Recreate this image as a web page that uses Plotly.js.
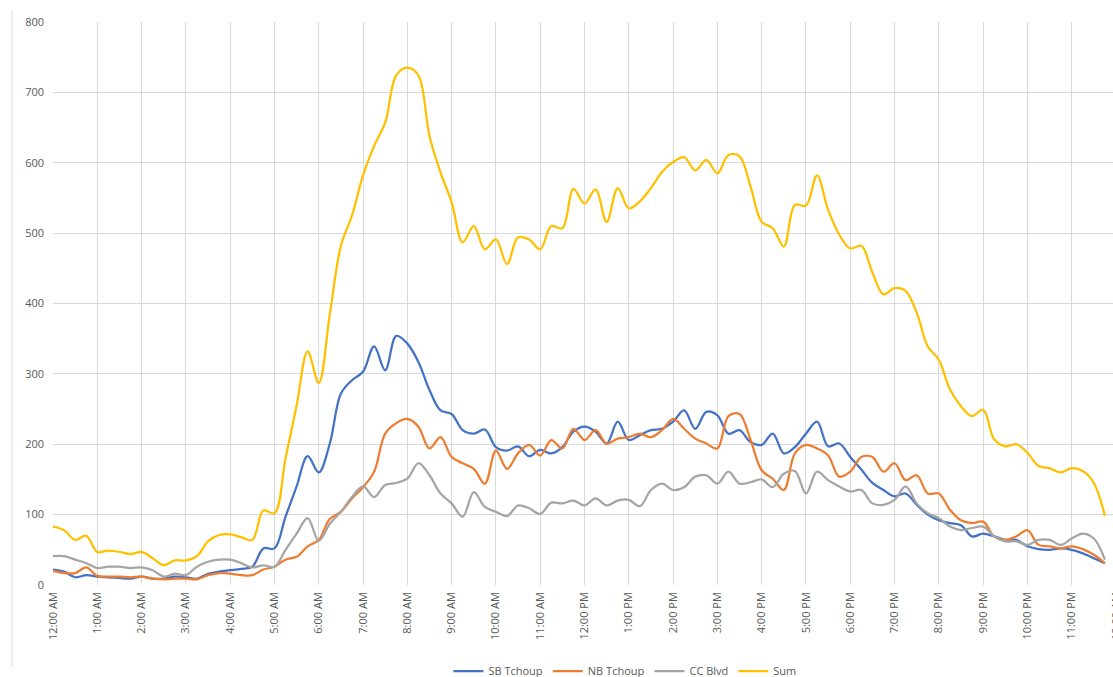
<!DOCTYPE html>
<html>
<head>
<meta charset="utf-8">
<script src="https://cdn.plot.ly/plotly-3.0.1.min.js"></script>
<style>
html, body { margin: 0; padding: 0; overflow: hidden; background: #fff; }
#chart { width: 1130px; height: 677px; }
</style>
</head>
<body>
<div id="chart"></div>
<script>
// Hour tick labels (one per hour, 12:00 AM to 12:00 AM)
const hourLabels = ['12:00 AM','1:00 AM','2:00 AM','3:00 AM','4:00 AM','5:00 AM','6:00 AM','7:00 AM','8:00 AM','9:00 AM','10:00 AM','11:00 AM',
  '12:00 PM','1:00 PM','2:00 PM','3:00 PM','4:00 PM','5:00 PM','6:00 PM','7:00 PM','8:00 PM','9:00 PM','10:00 PM','11:00 PM','12:00 AM'];

const seriesNames = ['SB Tchoup', 'NB Tchoup', 'CC Blvd', 'Sum'];

// 15-minute counts, 12:00 AM .. 11:45 PM
const sbTchoup = [
  22, 19, 11, 14,  12, 11, 10, 9,  12, 9, 9, 12,  11, 9, 16, 19,
  21, 23, 26, 52,  52, 97, 140, 183,  160, 201, 272, 291,  303, 339, 305, 354,
  343, 317, 277, 248,  243, 220, 215, 221,  196, 191, 197, 183,  192, 187, 196, 218,
  225, 218, 201, 232,  206, 213, 220, 222,  232, 248, 222, 246,  241, 215, 220, 203,
  199, 215, 187, 196,  215, 232, 197, 201,  182, 164, 145, 135,  126, 130, 114, 100,
  92, 88, 85, 69,  73, 69, 64, 64,  55, 51, 50, 52,  50, 45, 38, 31];

const nbTchoup = [
  20, 17, 17, 25,  13, 12, 12, 11,  12, 9, 8, 9,  9, 8, 14, 17,
  16, 14, 14, 22,  26, 36, 40, 55,  64, 94, 104, 123,  139, 161, 215, 230,
  236, 225, 194, 210,  182, 173, 165, 144,  191, 165, 187, 199,  184, 206, 194, 222,
  206, 220, 201, 208,  210, 215, 210, 220,  236, 222, 208, 201,  194, 240, 243, 206,
  163, 151, 135, 187,  199, 194, 184, 154,  161, 182, 182, 161,  173, 149, 156, 130,
  130, 107, 92, 88,  90, 69, 64, 69,  78, 57, 55, 52,  55, 51, 43, 31];

const ccBlvd = [
  41, 41, 36, 31,  24, 26, 26, 24,  25, 21, 12, 16,  14, 26, 33, 36,
  36, 31, 25, 28,  26, 50, 73, 95,  63, 87, 104, 125,  140, 125, 142, 145,
  151, 173, 156, 130,  116, 97, 132, 111,  104, 98, 113, 109,  101, 117, 116, 120,
  113, 123, 113, 120,  121, 112, 135, 144,  135, 139, 154, 156,  144, 161, 144, 146,
  150, 139, 158, 162,  130, 161, 149, 140,  133, 135, 116, 114,  121, 140, 116, 102,
  95, 83, 78, 81,  83, 69, 62, 62,  57, 64, 64, 57,  66, 73, 66, 36];

const sumTotal = [
  83, 78, 64, 70,  47, 49, 47, 44,  47, 38, 28, 35,  35, 41, 62, 71,
  72, 68, 64, 106,  102, 180, 255, 332,  287, 385, 482, 525,  582, 624, 657, 724,
  735, 724, 638, 586,  544, 487, 510, 477,  491, 456, 494, 491,  477, 510, 507, 563,
  542, 562, 516, 564,  535, 545, 564, 587,  601, 608, 589, 604,  585, 611, 609, 566,
  516, 507, 481, 540,  539, 582, 533, 498,  478, 482, 444, 413,  422, 418, 387, 339,
  320, 278, 254, 240,  249, 207, 197, 200,  188, 169, 166, 160,  166, 162, 145, 98];

const seriesColors = ['#4472C4', '#ED7D31', '#A5A5A5', '#FFC000'];
const allSeries = [sbTchoup, nbTchoup, ccBlvd, sumTotal];

const FONT = '"Open Sans", "Noto Sans", sans-serif';

const traces = allSeries.map((vals, k) => ({
  type: 'scatter',
  mode: 'lines',
  name: seriesNames[k],
  x: vals.map((_, i) => i / 4),
  y: vals,
  line: { color: seriesColors[k], width: 2.25, shape: 'spline', smoothing: 1 },
  hoverinfo: 'skip'
}));

const layout = {
  width: 1130,
  height: 677,
  margin: { l: 53, r: 14, t: 22, b: 92, autoexpand: false },
  paper_bgcolor: '#ffffff',
  plot_bgcolor: '#ffffff',
  font: { family: FONT, size: 11, color: '#595959' },
  showlegend: true,
  legend: {
    orientation: 'h',
    x: 0.538, xanchor: 'center',
    y: -0.153, yanchor: 'middle',
    font: { family: FONT, size: 11, color: '#595959' },
    bgcolor: 'rgba(0,0,0,0)'
  },
  xaxis: {
    range: [0, 24],
    tickvals: hourLabels.map((_, i) => i),
    ticktext: hourLabels,
    tickangle: -90,
    showgrid: true,
    gridcolor: '#d9d9d9',
    gridwidth: 1,
    zeroline: false,
    showline: false,
    ticks: '',
    ticklabelstandoff: 4,
    tickfont: { family: FONT, size: 11, color: '#595959' }
  },
  yaxis: {
    range: [0, 800],
    dtick: 100,
    showgrid: true,
    gridcolor: '#d9d9d9',
    gridwidth: 1,
    zeroline: false,
    showline: false,
    ticks: '',
    ticklabelstandoff: 8,
    tickfont: { family: FONT, size: 11, color: '#595959' }
  },
  shapes: [{
    type: 'line', xref: 'paper', yref: 'paper',
    x0: -0.0386, x1: -0.0386, y0: 1.021, y1: -0.1456,
    line: { color: '#d9d9d9', width: 1 }
  }]
};

Plotly.newPlot('chart', traces, layout, { displayModeBar: false, staticPlot: true });
</script>
</body>
</html>
